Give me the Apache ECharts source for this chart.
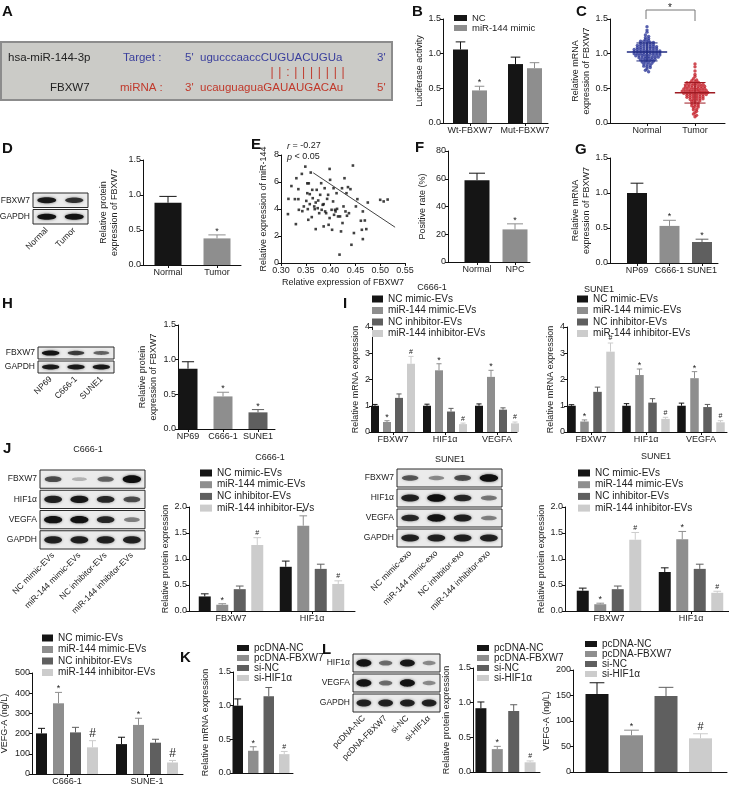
<!DOCTYPE html>
<html>
<head>
<meta charset="utf-8">
<title>miR-144 / FBXW7</title>
<script src="https://cdn.jsdelivr.net/npm/echarts@6.0.0/dist/echarts.min.js"></script>
<style>
  html, body { margin: 0; padding: 0; background: #fff; }
  #main { width: 729px; height: 790px; }
</style>
</head>
<body>
<div id="main"></div>
<script>
// ---------- data ----------
// B luciferase
var bGroups = ['Wt-FBXW7', 'Mut-FBXW7'];
var bNC = [1.06, 0.85], bNCErr = [0.11, 0.10];
var bMimic = [0.47, 0.79], bMimicErr = [0.06, 0.08];

// C scatter (relative mRNA of FBXW7)
var cGroups = ['Normal', 'Tumor'];
var cNormal = [1.39, 1.34, 1.31, 1.27, 1.25, 1.23, 1.22, 1.20, 1.19, 1.18,
  1.18, 1.17, 1.16, 1.16, 1.15, 1.14, 1.14, 1.13, 1.13, 1.12,
  1.12, 1.11, 1.11, 1.10, 1.10, 1.10, 1.09, 1.09, 1.08, 1.08,
  1.08, 1.07, 1.07, 1.06, 1.06, 1.06, 1.05, 1.05, 1.05, 1.04,
  1.04, 1.04, 1.03, 1.03, 1.03, 1.02, 1.02, 1.02, 1.01, 1.01,
  1.01, 1.00, 1.00, 1.00, 0.99, 0.99, 0.99, 0.98, 0.98, 0.98,
  0.97, 0.97, 0.97, 0.96, 0.96, 0.95, 0.95, 0.95, 0.94, 0.94,
  0.93, 0.93, 0.92, 0.92, 0.91, 0.91, 0.90, 0.90, 0.89, 0.88,
  0.88, 0.87, 0.86, 0.85, 0.84, 0.83, 0.82, 0.81, 0.80, 0.78,
  0.76, 0.74];
var cTumor = [0.85, 0.81, 0.75, 0.70, 0.67, 0.64, 0.62, 0.61, 0.60, 0.59,
  0.58, 0.58, 0.57, 0.57, 0.56, 0.56, 0.55, 0.55, 0.54, 0.54,
  0.53, 0.53, 0.53, 0.52, 0.52, 0.51, 0.51, 0.50, 0.50, 0.50,
  0.49, 0.49, 0.48, 0.48, 0.48, 0.47, 0.47, 0.47, 0.46, 0.46,
  0.46, 0.45, 0.45, 0.45, 0.44, 0.44, 0.44, 0.43, 0.43, 0.43,
  0.42, 0.42, 0.41, 0.41, 0.41, 0.40, 0.40, 0.39, 0.39, 0.38,
  0.38, 0.37, 0.37, 0.36, 0.36, 0.35, 0.35, 0.34, 0.33, 0.33,
  0.32, 0.31, 0.30, 0.29, 0.28, 0.27, 0.26, 0.25, 0.24, 0.23,
  0.22, 0.20, 0.19, 0.17, 0.15, 0.13, 0.11, 0.09];

// D protein
var dGroups = ['Normal', 'Tumor'];
var dVals = [0.89, 0.38], dErr = [0.09, 0.05];

// E correlation
var eX = [0.314, 0.315, 0.321, 0.328, 0.330, 0.331, 0.335, 0.335, 0.336, 0.342,
  0.343, 0.346, 0.349, 0.351, 0.353, 0.353, 0.354, 0.355, 0.356, 0.358,
  0.358, 0.360, 0.362, 0.363, 0.364, 0.367, 0.368, 0.370, 0.370, 0.372,
  0.374, 0.375, 0.377, 0.379, 0.381, 0.382, 0.384, 0.386, 0.386, 0.388,
  0.389, 0.391, 0.393, 0.395, 0.396, 0.398, 0.398, 0.399, 0.402, 0.403,
  0.405, 0.406, 0.407, 0.409, 0.410, 0.412, 0.413, 0.415, 0.418, 0.419,
  0.421, 0.423, 0.424, 0.426, 0.428, 0.430, 0.432, 0.433, 0.435, 0.437,
  0.440, 0.442, 0.445, 0.447, 0.451, 0.454, 0.461, 0.463, 0.465, 0.465,
  0.469, 0.472, 0.475, 0.500, 0.507, 0.515];
var eY = [3.62, 4.75, 5.70, 4.73, 2.88, 6.28, 5.47, 4.73, 3.94, 6.60,
  3.84, 4.19, 7.14, 4.60, 5.90, 5.17, 3.99, 3.20, 5.90, 5.10,
  4.36, 6.70, 3.40, 5.42, 4.80, 4.19, 3.99, 4.48, 2.51, 5.42,
  4.06, 4.63, 3.69, 5.05, 5.91, 3.94, 4.31, 4.36, 2.71, 5.54,
  3.82, 3.69, 4.75, 5.05, 2.83, 6.97, 3.33, 6.16, 3.94, 2.46,
  4.56, 5.54, 3.57, 3.94, 3.82, 5.17, 4.01, 3.45, 0.62, 3.45,
  2.34, 5.54, 2.96, 4.19, 6.28, 3.82, 5.17, 3.50, 5.62, 3.69,
  5.47, 1.35, 7.22, 2.22, 4.19, 4.73, 3.13, 2.46, 1.77, 3.82,
  3.15, 2.51, 4.48, 4.68, 4.56, 4.70];
var eFitX = [0.365, 0.530], eFitY = [6.68, 2.65];

// F positive rate
var fGroups = ['Normal', 'NPC'];
var fVals = [59, 23.5], fErr = [5, 4];

// G / H cell lines
var cellLines = ['NP69', 'C666-1', 'SUNE1'];
var gVals = [1.00, 0.53, 0.30], gErr = [0.14, 0.08, 0.04];
var hVals = [0.87, 0.47, 0.24], hErr = [0.10, 0.06, 0.04];

// I mRNA after EV treatment
var genes = ['FBXW7', 'HIF1α', 'VEGFA'];
var evNames = ['NC mimic-EVs', 'miR-144 mimic-EVs', 'NC inhibitor-EVs', 'miR-144 inhibitor-EVs'];
var exoNames = ['NC mimic-exo', 'miR-144 mimic-exo', 'NC inhibitor-exo', 'miR-144 inhibitor-exo'];
var evMarks = ['', '*', '', '#'];
var iC666 = [[1.00, 1.00, 1.00], [0.38, 2.35, 2.10], [1.30, 0.78, 0.85], [2.60, 0.30, 0.33]];
var iC666Err = [[0.05, 0.06, 0.07], [0.05, 0.25, 0.25], [0.15, 0.12, 0.07], [0.28, 0.04, 0.05]];
var iSune = [[1.00, 1.00, 1.00], [0.40, 2.17, 2.05], [1.53, 1.12, 0.95], [3.06, 0.50, 0.37]];
var iSuneErr = [[0.04, 0.08, 0.10], [0.06, 0.23, 0.25], [0.18, 0.15, 0.10], [0.33, 0.06, 0.06]];

// J protein after EV treatment
var proteins = ['FBXW7', 'HIF1α'];
var jC666 = [[0.28, 0.85], [0.12, 1.64], [0.42, 0.81], [1.27, 0.52]];
var jC666Err = [[0.05, 0.11], [0.02, 0.19], [0.06, 0.09], [0.14, 0.06]];
var jSune = [[0.39, 0.75], [0.13, 1.38], [0.42, 0.81], [1.37, 0.35]];
var jSuneErr = [[0.05, 0.08], [0.02, 0.15], [0.06, 0.09], [0.14, 0.03]];

// VEGF-A ELISA (EVs)
var elisaCells = ['C666-1', 'SUNE-1'];
var vEV = [[201, 148], [350, 243], [206, 155], [132, 57]];
var vEVErr = [[25, 34], [54, 33], [25, 17], [33, 10]];

// K / L
var klNames = ['pcDNA-NC', 'pcDNA-FBXW7', 'si-NC', 'si-HIF1α'];
var klMarks = ['', '*', '', '#'];
var kVals = [1.00, 0.33, 1.14, 0.28], kErr = [0.10, 0.06, 0.13, 0.04];
var lVals = [0.92, 0.33, 0.88, 0.14], lErr = [0.09, 0.04, 0.09, 0.02];
var vKL = [153, 72, 149, 66], vKLErr = [22, 10, 17, 9];

// western blot band strength (rows x lanes, 0..1)
var dBlot = [[0.90, 0.75], [0.95, 0.95]];
var hBlot = [[0.95, 0.70, 0.50], [0.90, 0.90, 0.90]];
var jBlotC666 = [[0.60, 0.12, 0.50, 1.00], [0.85, 0.90, 0.80, 0.60], [0.95, 0.95, 0.80, 0.35], [0.85, 0.85, 0.85, 0.85]];
var jBlotSune = [[0.55, 0.30, 0.60, 1.00], [0.85, 1.00, 0.80, 0.40], [0.80, 0.95, 0.85, 0.35], [0.85, 0.85, 0.85, 0.85]];
var lBlot = [[0.95, 0.45, 0.90, 0.30], [0.95, 0.45, 0.95, 0.30], [0.85, 0.85, 0.85, 0.85]];

// ---------- styling ----------
var FONT = "'Liberation Sans', Arial, Helvetica, sans-serif";
var AX = '#111', TXT = '#222';
var C_BLACK = '#151515', C_GRAY = '#8e8e8e', C_DARK = '#5f5f5f', C_LIGHT = '#cccccc';
var fourColors = [C_BLACK, C_GRAY, C_DARK, C_LIGHT];

var grids = [], xAxes = [], yAxes = [], series = [], legends = [], graphics = [];

function addGrid(box) {
  grids.push({left: box[0], top: box[1], width: box[2] - box[0], height: box[3] - box[1],
    containLabel: false, outerBoundsMode: 'none'});
  return grids.length - 1;
}

function yAxisOf(gi, o) {
  return {
    gridIndex: gi, type: 'value', min: 0, max: o.yMax, interval: o.yInt,
    axisLine: {show: true, onZero: false, lineStyle: {color: AX, width: 1}},
    axisTick: {show: true, length: 3, lineStyle: {color: AX}},
    axisLabel: {fontSize: 9, margin: 2, color: TXT, fontFamily: FONT,
      formatter: function (v) { return v.toFixed(o.dec || 0); }},
    splitLine: {show: false},
    name: o.yName, nameLocation: 'middle', nameGap: o.nameGap, nameRotate: 90,
    nameTextStyle: {fontSize: 9, color: TXT, fontFamily: FONT, lineHeight: 11}
  };
}

function groupXAxis(gi, box, c0, pitch, groups) {
  var xMin = -(c0 - box[0]) / pitch;
  var xMax = xMin + (box[2] - box[0]) / pitch;
  var ticks = groups ? groups.map(function (g, i) { return i; }) : [];
  return {
    gridIndex: gi, type: 'value', min: xMin, max: xMax,
    axisLine: {show: true, onZero: false, lineStyle: {color: AX, width: 1}},
    splitLine: {show: false},
    axisTick: {show: !!groups, customValues: ticks, length: 3, lineStyle: {color: AX}},
    axisLabel: {show: !!groups, customValues: ticks, fontSize: 9, margin: 3, color: TXT, fontFamily: FONT,
      formatter: function (v) { return groups ? groups[Math.round(v)] : ''; }}
  };
}

function errBars(gi, s, off, bw, marks) {
  var data = s.vals.map(function (v, g) { return [g + off, v, s.errs[g]]; });
  return {
    type: 'custom', xAxisIndex: gi, yAxisIndex: gi, z: 3, silent: true, data: data,
    renderItem: function (params, api) {
      var g = params.dataIndex;
      var col = s.colors ? s.colors[g] : s.color;
      var base = api.coord([api.value(0), api.value(1)]);
      var top = api.coord([api.value(0), api.value(1) + api.value(2)]);
      var cap = Math.max(2.5, bw * 0.32);
      var kids = [
        {type: 'line', shape: {x1: base[0], y1: base[1], x2: top[0], y2: top[1]}, style: {stroke: col, lineWidth: 1}},
        {type: 'line', shape: {x1: top[0] - cap, y1: top[1], x2: top[0] + cap, y2: top[1]}, style: {stroke: col, lineWidth: 1}}
      ];
      var m = s.marks ? s.marks[g] : '';
      if (m) {
        var fs = m === '#' ? marks.hash : marks.star;
        kids.push({type: 'text', x: top[0], y: top[1] - (m === '#' ? 1 : -1),
          style: {text: m, fill: TXT, fontSize: fs, fontFamily: FONT,
            align: 'center', verticalAlign: 'bottom', textAlign: 'center', textVerticalAlign: 'bottom'}});
      }
      return {type: 'group', children: kids};
    }
  };
}

function legendOf(names, o) {
  var ts = {fontSize: o.fontSize || 10, color: TXT, fontFamily: FONT, lineHeight: o.lineHeight || 10};
  return {orient: 'vertical', left: o.left, top: o.top, padding: 0, icon: 'rect',
    itemWidth: o.itemWidth || 11, itemHeight: o.itemHeight || 7, itemGap: o.itemGap === undefined ? 1.5 : o.itemGap,
    selectedMode: false, data: names, textStyle: ts};
}

function barChart(o) {
  var gi = addGrid(o.box);
  xAxes.push(groupXAxis(gi, o.box, o.c0, o.pitch, o.groups));
  yAxes.push(yAxisOf(gi, o));
  var n = o.series.length;
  var marks = o.marks || {star: 9, hash: 7};
  o.series.forEach(function (s, i) {
    var off = (i - (n - 1) / 2) * (o.slot || 0) / o.pitch;
    var data = s.vals.map(function (v, g) {
      return {value: [g + off, v], itemStyle: {color: s.colors ? s.colors[g] : s.color}};
    });
    series.push({type: 'bar', name: s.name, xAxisIndex: gi, yAxisIndex: gi, barWidth: o.bw, barGap: '-100%',
      silent: true, itemStyle: {color: s.color || s.colors[0]}, data: data});
    series.push(errBars(gi, s, off, o.bw, marks));
  });
  if (o.legend) legends.push(legendOf(o.series.map(function (s) { return s.name; }), o.legend));
}

function condSeries(names, vals, errs, marks) {
  return names.map(function (nm, i) {
    return {name: nm, color: fourColors[i], vals: vals[i], errs: errs[i],
      marks: vals[i].map(function () { return marks[i]; })};
  });
}

function singleCond(names, vals, errs, marks) {
  return names.map(function (nm, i) {
    return {name: nm, color: fourColors[i], vals: [vals[i]], errs: [errs[i]], marks: [marks[i]]};
  });
}

function blot(o) {
  var gi = addGrid(o.box);
  xAxes.push({gridIndex: gi, type: 'category', data: o.lanes,
    axisLine: {show: false}, axisTick: {show: false}, splitLine: {show: false},
    axisLabel: {rotate: 45, interval: 0, fontSize: 8.5, margin: 4, color: TXT, fontFamily: FONT}});
  yAxes.push({gridIndex: gi, type: 'category', data: o.rows, inverse: true,
    axisLine: {show: false}, axisTick: {show: false}, splitLine: {show: false},
    axisLabel: {fontSize: 8.5, margin: 3, color: TXT, fontFamily: FONT}});
  series.push({type: 'custom', xAxisIndex: gi, yAxisIndex: gi, z: 1, silent: true,
    data: o.rows.map(function (r, i) { return [0, i]; }),
    renderItem: function (params, api) {
      var cs = params.coordSys;
      var c = api.coord([0, api.value(1)]);
      var h = api.size([0, 1])[1];
      return {type: 'rect', shape: {x: cs.x, y: c[1] - h / 2 + 1, width: cs.width, height: h - 2},
        style: {fill: '#ebebeb', stroke: '#2a2a2a', lineWidth: 1}};
    }});
  var pts = [];
  o.bands.forEach(function (row, ri) { row.forEach(function (v, li) { pts.push([li, ri, v]); }); });
  series.push({type: 'custom', xAxisIndex: gi, yAxisIndex: gi, z: 2, silent: true, data: pts,
    renderItem: function (params, api) {
      var c = api.coord([api.value(0), api.value(1)]);
      var sz = api.size([1, 1]);
      var v = api.value(2);
      var w = sz[0] * (0.55 + 0.15 * v), h = Math.max(2, sz[1] * (0.16 + 0.22 * v));
      return {type: 'ellipse', shape: {cx: c[0], cy: c[1], rx: w / 2, ry: h / 2},
        style: {fill: 'rgba(15,15,15,' + (0.15 + 0.85 * v).toFixed(2) + ')', shadowBlur: 3,
          shadowColor: 'rgba(0,0,0,' + (0.6 * v).toFixed(2) + ')'}};
    }});
}

function txt(t, x, y, extra) {
  var st = {text: t, fill: TXT, fontSize: 9, fontFamily: FONT,
    align: 'center', verticalAlign: 'middle', textAlign: 'center', textVerticalAlign: 'middle'};
  for (var k in (extra || {})) st[k] = extra[k];
  graphics.push({type: 'text', x: x, y: y, silent: true, style: st});
}

function panel(t, x, y) {
  txt(t, x, y, {fontSize: 15, fontWeight: 'bold', fill: '#111', align: 'left', textAlign: 'left',
    verticalAlign: 'top', textVerticalAlign: 'top'});
}

// ---------- A: sequence box ----------
graphics.push({type: 'rect', silent: true, shape: {x: 1, y: 42, width: 391, height: 58},
  style: {fill: '#cbcbc7', stroke: '#8c8c8c', lineWidth: 2}});
var BLUE = '#3a3f9d', RED = '#c0392b';
var leftTop = {align: 'left', textAlign: 'left', fontSize: 11.5};
txt('hsa-miR-144-3p', 8, 58, Object.assign({fill: '#222'}, leftTop));
txt('Target :', 123, 58, Object.assign({fill: BLUE}, leftTop));
txt("5'", 185, 58, Object.assign({fill: BLUE}, leftTop));
txt('ugucccaaccCUGUACUGUa', 200, 58, Object.assign({fill: BLUE}, leftTop));
txt("3'", 377, 58, Object.assign({fill: BLUE}, leftTop));
var pairs = ['|', '|', ':', '|', '|', '|', '|', '|', '|', '|'];
pairs.forEach(function (p, k) { txt(p, 272 + k * 7.9, 73, {fill: RED, fontSize: 12}); });
txt('FBXW7', 50, 88, Object.assign({fill: '#222'}, leftTop));
txt('miRNA :', 120, 88, Object.assign({fill: RED}, leftTop));
txt("3'", 185, 88, Object.assign({fill: RED}, leftTop));
txt('ucauguaguaGAUAUGACAu', 200, 88, Object.assign({fill: RED}, leftTop));
txt("5'", 377, 88, Object.assign({fill: RED}, leftTop));

// ---------- B ----------
barChart({box: [443, 19, 548, 123], c0: 470, pitch: 55, slot: 19, bw: 15, groups: bGroups,
  yMax: 1.5, yInt: 0.5, dec: 1, yName: 'Luciferase activity', nameGap: 15,
  series: [
    {name: 'NC', color: C_BLACK, vals: bNC, errs: bNCErr, marks: ['', '']},
    {name: 'miR-144 mimic', color: C_GRAY, vals: bMimic, errs: bMimicErr, marks: ['*', '']}
  ],
  legend: {left: 454, top: 13, itemWidth: 13, itemHeight: 6, itemGap: 0, lineHeight: 7, fontSize: 9.5}});

// ---------- C ----------
(function () {
  var box = [610, 19, 725, 123], c0 = 647, pitch = 48;
  var gi = addGrid(box);
  xAxes.push(groupXAxis(gi, box, c0, pitch, cGroups));
  yAxes.push(yAxisOf(gi, {yMax: 1.5, yInt: 0.5, dec: 1, yName: 'Relative mRNA\nexpression of FBXW7', nameGap: 13}));
  function swarm(vals, center) {
    var bins = {}, out = [], binW = 0.03, step = 3.2 / pitch;
    vals.forEach(function (v) { var k = Math.round(v / binW); (bins[k] = bins[k] || []).push(v); });
    Object.keys(bins).forEach(function (k) {
      var b = bins[k];
      b.forEach(function (v, j) { out.push([center + (j - (b.length - 1) / 2) * step, v]); });
    });
    return out;
  }
  var cols = ['#2e3a9a', '#c4202b'];
  [cNormal, cTumor].forEach(function (vals, g) {
    series.push({type: 'scatter', xAxisIndex: gi, yAxisIndex: gi, silent: true, symbol: 'circle', symbolSize: 3.4,
      itemStyle: {color: cols[g]}, data: swarm(vals, g)});
  });
  series.push({type: 'custom', xAxisIndex: gi, yAxisIndex: gi, z: 4, silent: true,
    data: [cNormal, cTumor].map(function (vals, g) {
      var m = vals.reduce(function (a, b) { return a + b; }, 0) / vals.length;
      var sd = Math.sqrt(vals.reduce(function (a, b) { return a + (b - m) * (b - m); }, 0) / (vals.length - 1));
      return [g, m, sd];
    }),
    renderItem: function (params, api) {
      var g = api.value(0), m = api.value(1), sd = api.value(2);
      var col = params.dataIndex === 0 ? '#1f2a80' : '#9e1a22';
      var a = api.coord([g - 0.42, m]), b = api.coord([g + 0.42, m]);
      var lo = api.coord([g, m - sd]), hi = api.coord([g, m + sd]);
      var cw = 0.22 * pitch;
      return {type: 'group', children: [
        {type: 'line', shape: {x1: a[0], y1: a[1], x2: b[0], y2: b[1]}, style: {stroke: col, lineWidth: 1.5}},
        {type: 'line', shape: {x1: lo[0], y1: lo[1], x2: hi[0], y2: hi[1]}, style: {stroke: col, lineWidth: 1}},
        {type: 'line', shape: {x1: lo[0] - cw, y1: lo[1], x2: lo[0] + cw, y2: lo[1]}, style: {stroke: col, lineWidth: 1}},
        {type: 'line', shape: {x1: hi[0] - cw, y1: hi[1], x2: hi[0] + cw, y2: hi[1]}, style: {stroke: col, lineWidth: 1}}
      ]};
    }});
})();
graphics.push({type: 'polyline', silent: true, shape: {points: [[646, 19], [646, 10], [695, 10], [695, 21]]},
  style: {stroke: '#777', fill: null, lineWidth: 1}});
txt('*', 670, 8, {fontSize: 10});

// ---------- D ----------
blot({box: [33, 192, 88, 225], lanes: dGroups, rows: ['FBXW7', 'GAPDH'], bands: dBlot});
barChart({box: [143, 160, 241, 265], c0: 168, pitch: 49, bw: 27, groups: dGroups,
  yMax: 1.5, yInt: 0.5, dec: 1, yName: 'Relative protein\nexpression of FBXW7', nameGap: 23,
  series: [{name: 'dBars', colors: [C_BLACK, C_GRAY], vals: dVals, errs: dErr, marks: ['', '*']}]});

// ---------- E ----------
(function () {
  var gi = addGrid([281, 155, 405, 263]);
  xAxes.push({gridIndex: gi, type: 'value', min: 0.30, max: 0.55, interval: 0.05,
    axisLine: {show: true, onZero: false, lineStyle: {color: AX}}, splitLine: {show: false},
    axisTick: {show: true, length: 3, lineStyle: {color: AX}},
    axisLabel: {fontSize: 9, margin: 3, color: TXT, fontFamily: FONT, formatter: function (v) { return v.toFixed(2); }},
    name: 'Relative expression of FBXW7', nameLocation: 'middle', nameGap: 15,
    nameTextStyle: {fontSize: 9, color: TXT, fontFamily: FONT}});
  yAxes.push(yAxisOf(gi, {yMax: 8, yInt: 2, dec: 0, yName: 'Relative expression of miR-144', nameGap: 12}));
  series.push({type: 'scatter', xAxisIndex: gi, yAxisIndex: gi, silent: true, symbol: 'rect', symbolSize: 2.6,
    itemStyle: {color: '#111'}, data: eX.map(function (x, i) { return [x, eY[i]]; })});
  series.push({type: 'line', xAxisIndex: gi, yAxisIndex: gi, silent: true, symbol: 'none',
    lineStyle: {color: '#444', width: 1}, data: eFitX.map(function (x, i) { return [x, eFitY[i]]; })});
})();
txt('{i|r} = -0.27', 287, 146, {align: 'left', textAlign: 'left',
  rich: {i: {fontStyle: 'italic', fontSize: 9, fontFamily: FONT, fill: TXT}}});
txt('{i|p} < 0.05', 287, 157, {align: 'left', textAlign: 'left',
  rich: {i: {fontStyle: 'italic', fontSize: 9, fontFamily: FONT, fill: TXT}}});

// ---------- F ----------
barChart({box: [448, 151, 530, 262], c0: 477, pitch: 38, bw: 25, groups: fGroups,
  yMax: 80, yInt: 20, dec: 0, yName: 'Positive rate (%)', nameGap: 20,
  series: [{name: 'fBars', colors: [C_BLACK, C_GRAY], vals: fVals, errs: fErr, marks: ['', '*']}]});

// ---------- G ----------
barChart({box: [610, 158, 718, 263], c0: 637, pitch: 32.5, bw: 20, groups: cellLines,
  yMax: 1.5, yInt: 0.5, dec: 1, yName: 'Relative mRNA\nexpression of FBXW7', nameGap: 11,
  series: [{name: 'gBars', colors: [C_BLACK, C_GRAY, C_DARK], vals: gVals, errs: gErr, marks: ['', '*', '*']}]});

// ---------- H ----------
blot({box: [38, 346, 114, 374], lanes: cellLines, rows: ['FBXW7', 'GAPDH'], bands: hBlot});
barChart({box: [178, 325, 275, 429], c0: 188, pitch: 35, bw: 19, groups: cellLines,
  yMax: 1.5, yInt: 0.5, dec: 1, yName: 'Relative protein\nexpression of FBXW7', nameGap: 19,
  series: [{name: 'hBars', colors: [C_BLACK, C_GRAY, C_DARK], vals: hVals, errs: hErr, marks: ['', '*', '*']}]});

// ---------- I ----------
barChart({box: [372, 327, 517, 432], c0: 393, pitch: 52, slot: 12, bw: 8, groups: genes,
  yMax: 4, yInt: 1, dec: 0, yName: 'Relative mRNA expression', nameGap: 10,
  series: condSeries(evNames, iC666, iC666Err, evMarks),
  legend: {left: 372, top: 294}});
barChart({box: [567, 327, 727, 432], c0: 591, pitch: 55, slot: 13, bw: 8.5, groups: genes,
  yMax: 4, yInt: 1, dec: 0, yName: 'Relative mRNA expression', nameGap: 10,
  series: condSeries(evNames, iSune, iSuneErr, evMarks),
  legend: {left: 577, top: 294}});
txt('C666-1', 432, 288);
txt('SUNE1', 599, 290);

// ---------- J ----------
blot({box: [40, 469, 145, 550], lanes: evNames, rows: ['FBXW7', 'HIF1α', 'VEGFA', 'GAPDH'], bands: jBlotC666});
blot({box: [397, 468, 502, 548], lanes: exoNames, rows: ['FBXW7', 'HIF1α', 'VEGFA', 'GAPDH'], bands: jBlotSune});
barChart({box: [189, 507, 355, 611], c0: 231, pitch: 81, slot: 17.5, bw: 12, groups: proteins,
  yMax: 2, yInt: 0.5, dec: 1, yName: 'Relative protein expression', nameGap: 18,
  series: condSeries(evNames, jC666, jC666Err, evMarks),
  legend: {left: 200, top: 468, itemWidth: 12, itemGap: 1.7}});
barChart({box: [565, 507, 729, 611], c0: 609, pitch: 82, slot: 17.5, bw: 12, groups: proteins,
  yMax: 2, yInt: 0.5, dec: 1, yName: 'Relative protein expression', nameGap: 18,
  series: condSeries(evNames, jSune, jSuneErr, evMarks),
  legend: {left: 578, top: 468, itemWidth: 12, itemGap: 1.7}});
txt('C666-1', 88, 450);
txt('C666-1', 270, 458);
txt('SUNE1', 450, 460);
txt('SUNE1', 656, 457);

// ---------- VEGF-A ELISA (EVs) ----------
barChart({box: [32, 673, 183, 774], c0: 67, pitch: 80, slot: 17, bw: 11, groups: elisaCells,
  yMax: 500, yInt: 100, dec: 0, yName: 'VEFG-A (ng/L)', nameGap: 22, marks: {star: 9, hash: 12},
  series: condSeries(evNames, vEV, vEVErr, evMarks),
  legend: {left: 42, top: 633, itemGap: 1.5}});

// ---------- K ----------
barChart({box: [233, 672, 293, 773], c0: 261, pitch: 60, slot: 15.5, bw: 10.5, groups: null,
  yMax: 1.5, yInt: 0.5, dec: 1, yName: 'Relative mRNA expression', nameGap: 22,
  series: singleCond(klNames, kVals, kErr, klMarks),
  legend: {left: 237, top: 643, itemWidth: 12, itemHeight: 6, itemGap: 0, lineHeight: 8}});

// ---------- L ----------
blot({box: [353, 653, 440, 713], lanes: klNames, rows: ['HIF1α', 'VEGFA', 'GAPDH'], bands: lBlot});
barChart({box: [473, 668, 540, 772], c0: 505.5, pitch: 60, slot: 16.4, bw: 11, groups: null,
  yMax: 1.5, yInt: 0.5, dec: 1, yName: 'Relative protein expression', nameGap: 21,
  series: singleCond(klNames, lVals, lErr, klMarks),
  legend: {left: 477, top: 643, itemWidth: 12, itemHeight: 6, itemGap: 0, lineHeight: 8}});
barChart({box: [573, 670, 727, 772], c0: 648.75, pitch: 140, slot: 34.5, bw: 23, groups: null,
  yMax: 200, yInt: 50, dec: 0, yName: 'VEFG-A (ng/L)', nameGap: 21, marks: {star: 9, hash: 11},
  series: singleCond(klNames, vKL, vKLErr, klMarks),
  legend: {left: 585, top: 639, itemWidth: 12, itemHeight: 6, itemGap: 0, lineHeight: 9}});

// ---------- panel letters ----------
panel('A', 2, 4); panel('B', 412, 4); panel('C', 576, 4);
panel('D', 2, 141); panel('E', 251, 137); panel('F', 415, 140); panel('G', 575, 142);
panel('H', 2, 296); panel('I', 343, 296);
panel('J', 3, 441); panel('K', 180, 650); panel('L', 322, 642);

var chart = echarts.init(document.getElementById('main'), null, {renderer: 'canvas'});
chart.setOption({
  animation: false,
  backgroundColor: '#fff',
  textStyle: {fontFamily: FONT},
  grid: grids, xAxis: xAxes, yAxis: yAxes,
  legend: legends, series: series, graphic: graphics
});
window.onresize = chart.resize;
</script>
</body>
</html>
